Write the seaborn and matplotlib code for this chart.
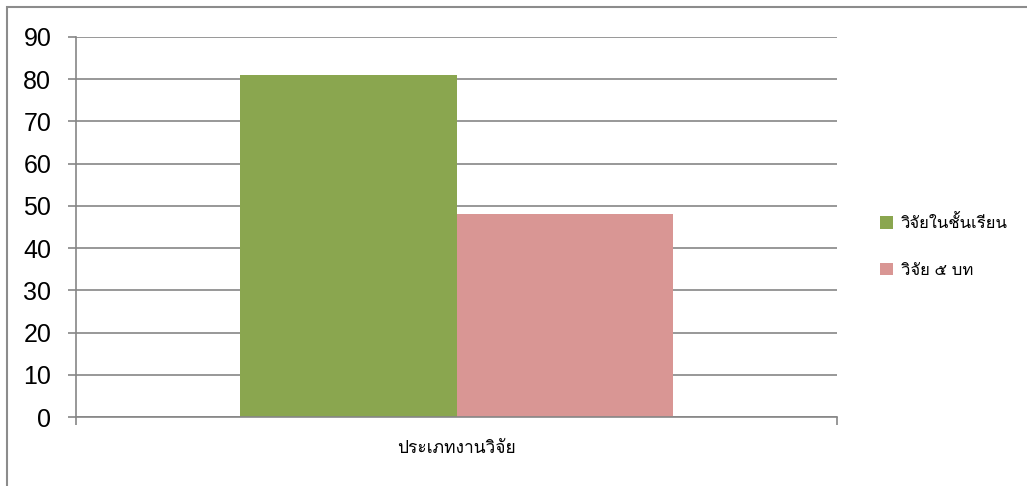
import matplotlib
matplotlib.use("Agg")
import matplotlib.pyplot as plt
import matplotlib.font_manager as fm
from matplotlib.ft2font import FT2Font
from matplotlib.patches import Rectangle
import pandas as pd
import seaborn as sns

# data
categories = ["ประเภทงานวิจัย"]
series = ["วิจัยในชั้นเรียน", "วิจัย ๕ บท"]
values = [81, 48]
colors = ["#8aa64f", "#d99694"]

# find an installed font that has thai glyphs
thai_font = None
for f in fm.fontManager.ttflist:
    try:
        if 0x0E27 in FT2Font(f.fname).get_charmap():
            thai_font = f.name
            break
    except Exception:
        pass

sns.set_style("white")
fams = ["Liberation Sans", "DejaVu Sans"] + ([thai_font] if thai_font else [])
plt.rcParams["font.family"] = fams

df = pd.DataFrame({"category": categories * len(series), "series": series, "value": values})

fig = plt.figure(figsize=(10.27, 4.86), dpi=100)
ax = fig.add_axes([76 / 1027, 1 - 417 / 486, (837 - 76) / 1027, (417 - 37) / 486])

sns.barplot(data=df, x="category", y="value", hue="series", palette=colors,
            width=0.57, ax=ax, saturation=1, edgecolor="none")

ax.set_ylim(0, 90)
ax.set_xlim(-0.5, 0.5)
ax.set_yticks(range(0, 91, 10))
ax.yaxis.grid(True, color="#868686", linewidth=1.2)
ax.set_axisbelow(True)
ax.set_xlabel("")
ax.set_ylabel("")
for s in ["top", "right"]:
    ax.spines[s].set_visible(False)
for s in ["left", "bottom"]:
    ax.spines[s].set_color("#868686")
    ax.spines[s].set_linewidth(1.2)

ax.tick_params(axis="y", labelsize=18, labelcolor="black", length=5.8, color="#868686",
               width=1.2, left=True, pad=12)
ax.set_xticks([-0.5, 0.5], minor=False)
ax.set_xticklabels(["", ""])
ax.tick_params(axis="x", length=5.8, color="#868686", width=1.2, bottom=True)
ax.set_xticks([0], minor=True)
ax.set_xticklabels(categories, minor=True, fontsize=12.5, color="black")
ax.tick_params(axis="x", which="minor", length=0, pad=17)

leg = ax.legend(loc="center left", bbox_to_anchor=((880 - 76) / 761, (417 - 246) / 380),
                frameon=False, fontsize=12, handlelength=0.78, handleheight=0.78,
                labelspacing=1.9, handletextpad=0.45, borderpad=0, borderaxespad=0)
for t in leg.get_texts():
    t.set_color("black")

# outer chart border
fig.patches.append(Rectangle((7 / 1027, -0.1), 1.2, 1 - 7 / 486 + 0.1, transform=fig.transFigure,
                             fill=False, edgecolor="#8c8c8c", linewidth=1.5))

fig.savefig("out.png", dpi=100)
